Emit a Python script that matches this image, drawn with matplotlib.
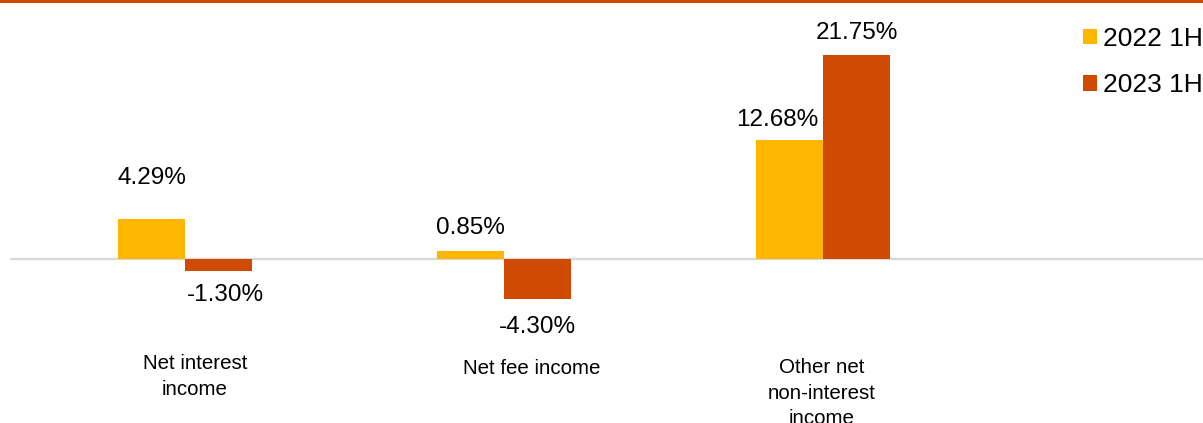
import matplotlib.pyplot as plt
from matplotlib.patches import Rectangle, Patch

plt.rcParams['font.family'] = ['Liberation Sans', 'DejaVu Sans']

# Income growth, first half vs first half
categories = ['Net interest\nincome', 'Net fee income', 'Other net\nnon-interest\nincome']
series_names = ['2022 1H', '2023 1H']
growth_2022 = [4.29, 0.85, 12.68]
growth_2023 = [-1.30, -4.30, 21.75]

yellow = '#ffb600'
orange = '#d04a02'
grid_grey = '#d9d9d9'

# label nudges in pixels (dx, dy) so the labels sit like in the report layout
label_nudge_2022 = [(0, 35), (0, 17), (-12, 14)]
label_nudge_2023 = [(7, -13), (0, -17), (0, 16)]
cat_nudge = [(10, -95), (28, -100), (-1, -99)]

fig = plt.figure(figsize=(12.03, 4.23), dpi=100)
ax = fig.add_axes([0, 0, 1, 1])

x = list(range(len(categories)))
w = 0.21
b1 = ax.bar([i - w / 2 for i in x], growth_2022, width=w, color=yellow, zorder=3)
b2 = ax.bar([i + w / 2 for i in x], growth_2023, width=w, color=orange, zorder=3)

# zero line
ax.plot([-0.549, 3.3], [0, 0], color=grid_grey, lw=1.6, zorder=2, solid_capstyle='butt')

for i, v in enumerate(growth_2022):
    dx, dy = label_nudge_2022[i]
    ax.annotate(f'{v:.2f}%', xy=(i - w / 2, v), xytext=(dx, dy), textcoords='offset pixels',
                ha='center', va='baseline' if v >= 0 else 'top', fontsize=17.5, color='#000000')
for i, v in enumerate(growth_2023):
    dx, dy = label_nudge_2023[i]
    ax.annotate(f'{v:.2f}%', xy=(i + w / 2, v), xytext=(dx, dy), textcoords='offset pixels',
                ha='center', va='baseline' if v >= 0 else 'top', fontsize=17.5, color='#000000')

for i, c in enumerate(categories):
    dx, dy = cat_nudge[i]
    ax.annotate(c, xy=(i, 0), xytext=(dx, dy), textcoords='offset pixels',
                ha='center', va='top', multialignment='center', fontsize=14.8,
                linespacing=1.45, color='#000000')

ax.set_xlim(-185 / 319, (1203 - 185) / 319)
ax.set_ylim(-164 / 9.4, 259 / 9.4)
ax.axis('off')

handles = [Patch(facecolor=yellow, edgecolor='none'), Patch(facecolor=orange, edgecolor='none')]
fig.legend(handles, series_names, loc='upper left', bbox_to_anchor=(1083 / 1203, 1 - 27 / 423),
           frameon=False, fontsize=19, handlelength=0.53, handleheight=0.53,
           handletextpad=0.23, labelspacing=0.85, borderpad=0, borderaxespad=0)

# orange rule across the top
fig.add_artist(Rectangle((0, 1 - 3 / 423), 1, 3 / 423, transform=fig.transFigure,
                         facecolor=orange, edgecolor='none'))

fig.savefig('out.png', dpi=100)
